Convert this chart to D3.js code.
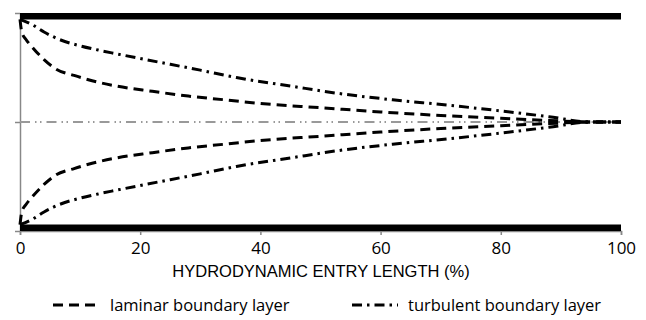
<!DOCTYPE html>
<meta charset="utf-8">
<style>
body { margin: 0; background: #fff; }
.tick text { font-family: "Open Sans", sans-serif; font-size: 17px; fill: #000; }
.title { font-family: "Liberation Sans", Arial, sans-serif; font-size: 16.5px; }
.legend text { font-family: "Open Sans", sans-serif; font-size: 16.5px; }
</style>
<script src="https://d3js.org/d3.v7.min.js"></script>
<div id="chart"></div>
<script>
// boundary layer half-thickness as fraction of the half channel (wall = 1)
var laminarX = [0, 0.3, 1, 2, 4, 6, 9, 12, 16, 22, 28, 34, 40, 50, 60, 70, 80, 88, 95, 100];
var laminarY = [0.97, 0.85, 0.78, 0.71, 0.59, 0.50, 0.44, 0.39, 0.34, 0.29, 0.245, 0.21, 0.175, 0.135, 0.095, 0.062, 0.035, 0.015, 0, 0];
var turbX = [0, 2, 4, 7, 10, 13, 16, 20, 25, 30, 36, 45, 53, 62, 71, 80, 88, 95, 100];
var turbY = [0.97, 0.92, 0.85, 0.77, 0.72, 0.68, 0.645, 0.60, 0.545, 0.49, 0.42, 0.34, 0.27, 0.21, 0.16, 0.105, 0.05, 0, 0];
var xTicks = [0, 20, 40, 60, 80, 100];
var yTicks = [-1.03, 0, 1.03];
var walls = [1, -1];
var legendNames = ["laminar boundary layer", "turbulent boundary layer"];

var W = 646, H = 320;
var svg = d3.select("#chart").append("svg").attr("width", W).attr("height", H);

var x = d3.scaleLinear().domain([0, 100]).range([20, 621]);
var y = d3.scaleLinear().domain([-1.03, 1.03]).range([231, 13]);

// x axis
var xAxis = svg.append("g")
  .attr("transform", "translate(0," + y(-1.03) + ")")
  .call(d3.axisBottom(x).tickValues(xTicks).tickSize(4).tickPadding(7).tickFormat(d3.format("d")));
xAxis.select(".domain").attr("stroke", "#888").attr("stroke-width", 1.5);
xAxis.selectAll(".tick line").attr("stroke", "#888").attr("stroke-width", 1.5);

// y axis
var yAxis = svg.append("g")
  .attr("transform", "translate(" + x(0) + ",0)")
  .call(d3.axisLeft(y).tickValues(yTicks).tickSize(5).tickSizeOuter(0).tickFormat(""));
yAxis.select(".domain").attr("stroke", "#888").attr("stroke-width", 1.5);
yAxis.selectAll(".tick line").attr("stroke", "#888").attr("stroke-width", 1.5);

// centre line
svg.append("line")
  .attr("x1", x(0)).attr("x2", x(100))
  .attr("y1", y(0)).attr("y2", y(0))
  .attr("stroke", "#999").attr("stroke-width", 2)
  .attr("stroke-dasharray", "10,5,1.5,3.5,1.5,5");

// walls
svg.selectAll(".wall").data(walls).enter().append("line")
  .attr("class", "wall")
  .attr("x1", x(0)).attr("x2", x(100))
  .attr("y1", function(d) { return y(d); })
  .attr("y2", function(d) { return y(d); })
  .attr("stroke", "#000").attr("stroke-width", 6.5);

var line = d3.line()
  .x(function(d) { return x(d[0]); })
  .y(function(d) { return y(d[1]); })
  .curve(d3.curveMonotoneX);

function drawPair(xs, ys, dash) {
  [1, -1].forEach(function(s) {
    var pts = xs.map(function(v, i) { return [v, s * ys[i]]; });
    svg.append("path")
      .attr("d", line(pts))
      .attr("fill", "none")
      .attr("stroke", "#000")
      .attr("stroke-width", 3)
      .attr("stroke-dasharray", dash);
  });
}
drawPair(laminarX, laminarY, "10,6");
drawPair(turbX, turbY, "10,5,2.5,5");

// axis title
svg.append("text")
  .attr("class", "title")
  .attr("x", 321).attr("y", 277)
  .attr("text-anchor", "middle")
  .text("HYDRODYNAMIC ENTRY LENGTH (%)");

// legend
var legendX = [53, 352];
var dashes = ["10,6", "10,5,2.5,5"];
var legend = svg.selectAll(".legend").data(legendNames).enter().append("g")
  .attr("class", "legend")
  .attr("transform", function(d, i) { return "translate(" + legendX[i] + ",305)"; });
legend.append("line")
  .attr("x1", 0).attr("x2", function(d, i) { return i ? 46 : 42; })
  .attr("y1", 0).attr("y2", 0)
  .attr("stroke", "#000").attr("stroke-width", 3)
  .attr("stroke-dasharray", function(d, i) { return dashes[i]; });
legend.append("text")
  .attr("x", function(d, i) { return i ? 56 : 57; })
  .attr("y", 6)
  .text(function(d) { return d; });
</script>
